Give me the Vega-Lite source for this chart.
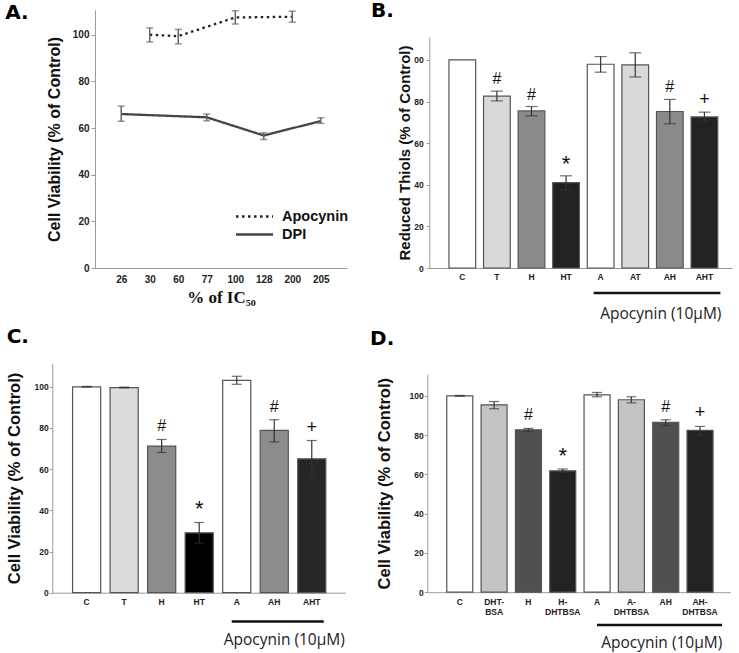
{
  "$schema": "https://vega.github.io/schema/vega-lite/v6.json",
  "background": "white",
  "width": 739,
  "height": 653,
  "autosize": {"type": "none"},
  "padding": 0,
  "config": {
    "view": {"stroke": null},
    "font": "Liberation Sans",
    "axis": {"grid": false, "domainColor": "#999", "tickColor": "#999", "labelFont": "Liberation Sans", "titleFont": "Liberation Sans", "labelFontWeight": "bold", "titleFontWeight": "bold", "labelColor": "#222", "titleColor": "#111"}
  },
  "resolve": {
    "scale": {"x": "independent", "y": "independent", "color": "independent", "strokeDash": "independent", "size": "independent"},
    "axis": {"x": "independent", "y": "independent"},
    "legend": {"color": "independent", "strokeDash": "independent", "size": "independent"}
  },
  "layer": [
    {
      "data": {"name": "a"},
      "encoding": {
        "x": {"field": "pct", "type": "ordinal", "scale": {"type": "point", "domain": [26, 30, 60, 77, 100, 128, 200, 205], "range": [95, 347], "padding": 0.92},
              "axis": {"orient": "bottom", "offset": -385, "title": "% of IC₅₀", "titleFont": "Liberation Serif", "titleFontSize": 17, "labelFontSize": 10, "labelAngle": 0, "ticks": false, "labelPadding": 6, "titlePadding": 5}}
      },
      "layer": [
        {"mark": {"type": "line", "strokeWidth": 2.3},
         "encoding": {
           "y": {"field": "v", "type": "quantitative", "scale": {"domain": [0, 110.6], "nice": false, "range": [268, 10]},
                 "axis": {"orient": "left", "offset": -95, "values": [0, 20, 40, 60, 80, 100], "title": "Cell Viability (% of Control)", "titleFontSize": 16, "labelFontSize": 10, "tickSize": 4, "labelPadding": 2, "titlePadding": 10}},
           "order": {"field": "pct", "type": "quantitative"},
           "color": {"field": "series", "type": "nominal", "scale": {"domain": ["Apocynin", "DPI"], "range": ["#222222", "#444444"]},
                     "legend": {"title": null, "orient": "none", "legendX": 247, "legendY": 209, "symbolType": "M-3,0H3", "symbolSize": 152, "symbolStrokeWidth": 2.5, "labelFont": "Liberation Sans", "labelFontWeight": "bold", "labelFontSize": 14.5, "labelColor": "#111", "labelOffset": 20, "rowPadding": 3, "padding": 0}},
           "strokeDash": {"field": "series", "type": "nominal", "scale": {"domain": ["Apocynin", "DPI"], "range": [[2.5, 3.5], [1, 0]]}}
         }},
        {"mark": {"type": "rule", "color": "#666", "strokeWidth": 1.5},
         "encoding": {"y": {"field": "lo", "type": "quantitative"}, "y2": {"field": "hi"}}},
        {"mark": {"type": "tick", "color": "#666", "thickness": 1.5, "size": 7},
         "encoding": {"y": {"field": "lo", "type": "quantitative"}}},
        {"mark": {"type": "tick", "color": "#666", "thickness": 1.5, "size": 7},
         "encoding": {"y": {"field": "hi", "type": "quantitative"}}},
        {"data": {"values": [{"t": "A."}]},
         "mark": {"type": "text", "font": "DejaVu Sans", "fontWeight": "bold", "fontSize": 20, "align": "left", "baseline": "alphabetic", "color": "#000", "dx": -116, "dy": 8.5},
         "encoding": {"x": {"datum": 26}, "y": {"datum": 110.6}, "text": {"field": "t"}}}
      ]
    },
    {
      "encoding": {
        "x": {"field": "cond", "type": "nominal", "scale": {"domain": ["C", "T", "H", "HT", "A", "AT", "AH", "AHT"], "range": [429.3, 732], "paddingInner": 0.228, "paddingOuter": 0.49, "align": 0.58},
              "axis": {"orient": "bottom", "offset": -385, "title": null, "labelFontSize": 8.5, "labelAngle": 0, "ticks": false, "labelPadding": 4}}
      },
      "layer": [
        {"data": {"name": "b"}, "mark": {"type": "bar", "stroke": "#555", "strokeWidth": 1.2},
         "encoding": {
           "y": {"field": "v", "type": "quantitative", "scale": {"domain": [0, 111], "nice": false, "range": [268, 37]},
                 "axis": {"orient": "left", "offset": -429.3, "values": [0, 20, 40, 60, 80, 100], "labelExpr": "datum.value == 100 ? '00' : datum.label", "title": "Reduced Thiols (% of Control)", "titleFontSize": 15, "labelFontSize": 8.5, "tickSize": 3, "labelPadding": 3, "titlePadding": 1}},
           "color": {"field": "grp", "type": "nominal", "scale": {"domain": ["ctrl", "T", "H", "HT"], "range": ["#ffffff", "#d9d9d9", "#8a8a8a", "#222222"]}, "legend": null}
         }},
        {"data": {"name": "b"}, "mark": {"type": "rule", "color": "#333", "strokeWidth": 1.2},
         "encoding": {"y": {"field": "lo", "type": "quantitative"}, "y2": {"field": "hi"}}},
        {"data": {"name": "b"}, "mark": {"type": "tick", "color": "#333", "thickness": 1.2, "size": 12},
         "encoding": {"y": {"field": "lo", "type": "quantitative"}}},
        {"data": {"name": "b"}, "mark": {"type": "tick", "color": "#333", "thickness": 1.2, "size": 12},
         "encoding": {"y": {"field": "hi", "type": "quantitative"}}},
        {"data": {"name": "b"}, "mark": {"type": "text", "baseline": "middle", "dy": -12, "color": "#111"},
         "encoding": {"y": {"field": "hi", "type": "quantitative"}, "text": {"field": "sig"},
                      "size": {"field": "sig", "type": "nominal", "scale": {"type": "ordinal", "domain": ["", "#", "*", "+"], "range": [16, 16, 22, 18]}, "legend": null}}},
        {"data": {"values": [{"label": "Apocynin (10µM)"}]}, "mark": {"type": "rule", "color": "#111", "strokeWidth": 2.5, "xOffset": -7, "x2Offset": 16},
         "encoding": {"x": {"datum": "A"}, "x2": {"datum": "AHT"}, "y": {"datum": -12}}},
        {"data": {"values": [{"label": "Apocynin (10µM)"}]}, "mark": {"type": "text", "font": "Open Sans", "fontSize": 15.5, "color": "#222", "baseline": "middle", "dx": -9},
         "encoding": {"x": {"datum": "AH"}, "y": {"datum": -22}, "text": {"field": "label"}}},
        {"data": {"values": [{"t": "B."}]},
         "mark": {"type": "text", "font": "DejaVu Sans", "fontWeight": "bold", "fontSize": 20, "align": "left", "baseline": "alphabetic", "color": "#000", "dx": -91.3, "dy": -20},
         "encoding": {"x": {"datum": "C"}, "y": {"datum": 111}, "text": {"field": "t"}}}
      ]
    },
    {
      "encoding": {
        "x": {"field": "cond", "type": "nominal", "scale": {"domain": ["C", "T", "H", "HT", "A", "AH", "AHT"], "range": [52.3, 345.3], "paddingInner": 0.251, "paddingOuter": 0.53, "align": 0.51},
              "axis": {"orient": "bottom", "offset": -60.3, "title": null, "labelFontSize": 8.5, "labelAngle": 0, "ticks": false, "labelPadding": 5}}
      },
      "layer": [
        {"data": {"name": "c"}, "mark": {"type": "bar", "stroke": "#555", "strokeWidth": 1.2},
         "encoding": {
           "y": {"field": "v", "type": "quantitative", "scale": {"domain": [0, 111.4], "nice": false, "range": [592.7, 363.3]},
                 "axis": {"orient": "left", "offset": -52.3, "values": [0, 20, 40, 60, 80, 100], "title": "Cell Viability (% of Control)", "titleFontSize": 16.5, "labelFontSize": 8.5, "tickSize": 3, "labelPadding": 1, "titlePadding": 12}},
           "color": {"field": "grp", "type": "nominal", "scale": {"domain": ["ctrl", "T", "H", "HT", "AHT"], "range": ["#ffffff", "#dcdcdc", "#8c8c8c", "#000000", "#262626"]}, "legend": null}
         }},
        {"data": {"name": "c"}, "mark": {"type": "rule", "color": "#333", "strokeWidth": 1.2},
         "encoding": {"y": {"field": "lo", "type": "quantitative"}, "y2": {"field": "hi"}}},
        {"data": {"name": "c"}, "mark": {"type": "tick", "color": "#333", "thickness": 1.2, "size": 10},
         "encoding": {"y": {"field": "lo", "type": "quantitative"}}},
        {"data": {"name": "c"}, "mark": {"type": "tick", "color": "#333", "thickness": 1.2, "size": 10},
         "encoding": {"y": {"field": "hi", "type": "quantitative"}}},
        {"data": {"name": "c"}, "mark": {"type": "text", "baseline": "middle", "dy": -13, "color": "#111"},
         "encoding": {"y": {"field": "hi", "type": "quantitative"}, "text": {"field": "sig"},
                      "size": {"field": "sig", "type": "nominal", "scale": {"type": "ordinal", "domain": ["", "#", "*", "+"], "range": [16, 16, 22, 18]}, "legend": null}}},
        {"data": {"values": [{"label": "Apocynin (10µM)"}]}, "mark": {"type": "rule", "color": "#111", "strokeWidth": 2.5, "xOffset": -5, "x2Offset": 12},
         "encoding": {"x": {"datum": "A"}, "x2": {"datum": "AHT"}, "y": {"datum": -14}}},
        {"data": {"values": [{"label": "Apocynin (10µM)"}]}, "mark": {"type": "text", "font": "Open Sans", "fontSize": 15.5, "color": "#222", "baseline": "middle", "dx": 10},
         "encoding": {"x": {"datum": "AH"}, "y": {"datum": -23}, "text": {"field": "label"}}},
        {"data": {"values": [{"t": "C."}]},
         "mark": {"type": "text", "font": "DejaVu Sans", "fontWeight": "bold", "fontSize": 20, "align": "left", "baseline": "alphabetic", "color": "#000", "dx": -80, "dy": -20.6},
         "encoding": {"x": {"datum": "C"}, "y": {"datum": 111.4}, "text": {"field": "t"}}}
      ]
    },
    {
      "encoding": {
        "x": {"field": "cond", "type": "nominal", "scale": {"domain": ["C", "DHT-BSA", "H", "H-DHTBSA", "A", "A-DHTBSA", "AH", "AH-DHTBSA"], "range": [427.3, 730.3], "paddingInner": 0.242, "paddingOuter": 0.535, "align": 0.53},
              "axis": {"orient": "bottom", "offset": -60.8, "title": null, "labelFontSize": 8.5, "labelAngle": 0, "ticks": false, "labelPadding": 5, "labelLineHeight": 10,
                       "labelExpr": "indexof(datum.label, '-') > 0 ? [slice(datum.label, 0, indexof(datum.label, '-') + 1), slice(datum.label, indexof(datum.label, '-') + 1)] : datum.label"}}
      },
      "layer": [
        {"data": {"name": "d"}, "mark": {"type": "bar", "stroke": "#555", "strokeWidth": 1.2},
         "encoding": {
           "y": {"field": "v", "type": "quantitative", "scale": {"domain": [0, 111], "nice": false, "range": [592.2, 374.2]},
                 "axis": {"orient": "left", "offset": -427.3, "values": [0, 20, 40, 60, 80, 100], "title": "Cell Viability (% of Control)", "titleFontSize": 16.5, "labelFontSize": 8.5, "tickSize": 3, "labelPadding": 1, "titlePadding": 17}},
           "color": {"field": "grp", "type": "nominal", "scale": {"domain": ["ctrl", "DHT", "H", "HD"], "range": ["#ffffff", "#c4c4c4", "#505050", "#222222"]}, "legend": null}
         }},
        {"data": {"name": "d"}, "mark": {"type": "rule", "color": "#333", "strokeWidth": 1.2},
         "encoding": {"y": {"field": "lo", "type": "quantitative"}, "y2": {"field": "hi"}}},
        {"data": {"name": "d"}, "mark": {"type": "tick", "color": "#333", "thickness": 1.2, "size": 10},
         "encoding": {"y": {"field": "lo", "type": "quantitative"}}},
        {"data": {"name": "d"}, "mark": {"type": "tick", "color": "#333", "thickness": 1.2, "size": 10},
         "encoding": {"y": {"field": "hi", "type": "quantitative"}}},
        {"data": {"name": "d"}, "mark": {"type": "text", "baseline": "middle", "dy": -13, "color": "#111"},
         "encoding": {"y": {"field": "hi", "type": "quantitative"}, "text": {"field": "sig"},
                      "size": {"field": "sig", "type": "nominal", "scale": {"type": "ordinal", "domain": ["", "#", "*", "+"], "range": [16, 16, 22, 18]}, "legend": null}}},
        {"data": {"values": [{"label": "Apocynin (10µM)"}]}, "mark": {"type": "rule", "color": "#111", "strokeWidth": 2.5, "xOffset": 0, "x2Offset": 22},
         "encoding": {"x": {"datum": "A"}, "x2": {"datum": "AH-DHTBSA"}, "y": {"datum": -16.7}}},
        {"data": {"values": [{"label": "Apocynin (10µM)"}]}, "mark": {"type": "text", "font": "Open Sans", "fontSize": 15.5, "color": "#222", "baseline": "middle", "dx": -4},
         "encoding": {"x": {"datum": "AH"}, "y": {"datum": -26}, "text": {"field": "label"}}},
        {"data": {"values": [{"t": "D."}]},
         "mark": {"type": "text", "font": "DejaVu Sans", "fontWeight": "bold", "fontSize": 20, "align": "left", "baseline": "alphabetic", "color": "#000", "dx": -89.7, "dy": -29.2},
         "encoding": {"x": {"datum": "C"}, "y": {"datum": 111}, "text": {"field": "t"}}}
      ]
    }
  ],
  "datasets": {
    "a": [
      {"series": "Apocynin", "pct": 30, "v": 100.0, "lo": 96.9, "hi": 102.9},
      {"series": "Apocynin", "pct": 60, "v": 99.4, "lo": 96.1, "hi": 102.3},
      {"series": "Apocynin", "pct": 100, "v": 107.4, "lo": 104.6, "hi": 110.3},
      {"series": "Apocynin", "pct": 200, "v": 107.7, "lo": 105.4, "hi": 110.1},
      {"series": "DPI", "pct": 26, "v": 66.0, "lo": 62.9, "hi": 69.4},
      {"series": "DPI", "pct": 77, "v": 64.6, "lo": 63.1, "hi": 66.0},
      {"series": "DPI", "pct": 128, "v": 56.8, "lo": 55.1, "hi": 58.0},
      {"series": "DPI", "pct": 205, "v": 63.0, "lo": 62.0, "hi": 64.4}
    ],
    "b": [
      {"cond": "C", "grp": "ctrl", "v": 100, "lo": null, "hi": null, "sig": ""},
      {"cond": "T", "grp": "T", "v": 82.6, "lo": 80.3, "hi": 85.0, "sig": "#"},
      {"cond": "H", "grp": "H", "v": 75.5, "lo": 73.1, "hi": 77.6, "sig": "#"},
      {"cond": "HT", "grp": "HT", "v": 41.0, "lo": 37.4, "hi": 44.3, "sig": "*"},
      {"cond": "A", "grp": "ctrl", "v": 97.9, "lo": 94.1, "hi": 101.6, "sig": ""},
      {"cond": "AT", "grp": "T", "v": 97.6, "lo": 91.8, "hi": 103.4, "sig": ""},
      {"cond": "AH", "grp": "H", "v": 75.2, "lo": 69.3, "hi": 81.0, "sig": "#"},
      {"cond": "AHT", "grp": "HT", "v": 72.6, "lo": 70.4, "hi": 74.9, "sig": "+"}
    ],
    "c": [
      {"cond": "C", "grp": "ctrl", "v": 100, "lo": 99.8, "hi": 100.2, "sig": ""},
      {"cond": "T", "grp": "T", "v": 99.6, "lo": 99.4, "hi": 99.8, "sig": ""},
      {"cond": "H", "grp": "H", "v": 71.2, "lo": 68.1, "hi": 74.4, "sig": "#"},
      {"cond": "HT", "grp": "HT", "v": 29.1, "lo": 24.1, "hi": 34.1, "sig": "*"},
      {"cond": "A", "grp": "ctrl", "v": 103.1, "lo": 101.2, "hi": 105.1, "sig": ""},
      {"cond": "AH", "grp": "H", "v": 78.8, "lo": 73.2, "hi": 84.0, "sig": "#"},
      {"cond": "AHT", "grp": "AHT", "v": 65.0, "lo": 55.6, "hi": 73.9, "sig": "+"}
    ],
    "d": [
      {"cond": "C", "grp": "ctrl", "v": 100, "lo": 99.8, "hi": 100.2, "sig": ""},
      {"cond": "DHT-BSA", "grp": "DHT", "v": 95.4, "lo": 93.4, "hi": 97.1, "sig": ""},
      {"cond": "H", "grp": "H", "v": 82.7, "lo": 82.0, "hi": 83.4, "sig": "#"},
      {"cond": "H-DHTBSA", "grp": "HD", "v": 61.8, "lo": 61.0, "hi": 62.7, "sig": "*"},
      {"cond": "A", "grp": "ctrl", "v": 100.5, "lo": 99.5, "hi": 101.7, "sig": ""},
      {"cond": "A-DHTBSA", "grp": "DHT", "v": 98.0, "lo": 96.4, "hi": 99.5, "sig": ""},
      {"cond": "AH", "grp": "H", "v": 86.5, "lo": 84.9, "hi": 87.8, "sig": "#"},
      {"cond": "AH-DHTBSA", "grp": "HD", "v": 82.4, "lo": 79.9, "hi": 84.4, "sig": "+"}
    ]
  }
}
